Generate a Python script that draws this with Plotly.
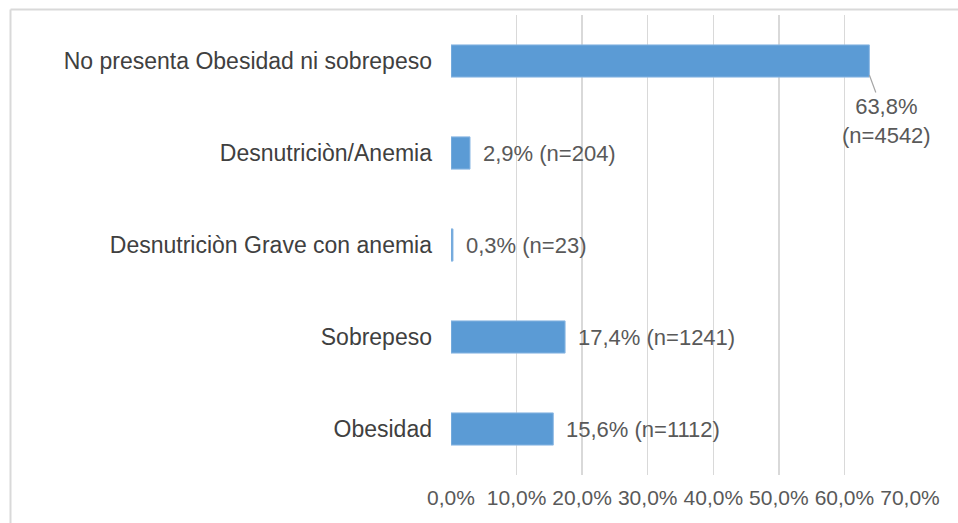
import plotly.graph_objects as go

categories = ["No presenta Obesidad ni sobrepeso", "Desnutriciòn/Anemia",
              "Desnutriciòn Grave con anemia", "Sobrepeso", "Obesidad"]
pct_values = [63.8, 2.9, 0.3, 17.4, 15.6]
n_values = [4542, 204, 23, 1241, 1112]
tick_vals = [0, 10, 20, 30, 40, 50, 60, 70]
tick_text = ["0,0%", "10,0%", "20,0%", "30,0%", "40,0%", "50,0%", "60,0%", "70,0%"]

FONT = "Liberation Sans, Arial, sans-serif"
W, H = 958, 523
L, R, T, B = 451, 48, 15, 48

fig = go.Figure(go.Bar(
    x=pct_values, y=categories, orientation="h",
    marker=dict(color="#5B9BD5", line=dict(color="#8DB9E4", width=1)),
    hoverinfo="skip",
))

def fmt(v):
    return f"{v:.1f}".replace(".", ",") + "%"

annotations = []
for i, (c, v, n) in enumerate(zip(categories, pct_values, n_values)):
    if i == 0:
        annotations.append(dict(
            x=v, y=c, xref="x", yref="y", text=f"{fmt(v)}<br>(n={n})",
            showarrow=True, arrowhead=0, arrowwidth=1.2, arrowcolor="#A6A6A6",
            ax=17, ay=46, yshift=-14, align="center",
            font=dict(family=FONT, size=22, color="#595959"),
        ))
    else:
        annotations.append(dict(
            x=v, y=c, xref="x", yref="y", text=f"{fmt(v)} (n={n})",
            showarrow=False, xanchor="left", xshift=11,
            font=dict(family=FONT, size=22, color="#595959"),
        ))

pw = W - L - R
ph = H - T - B
fx = (10.5 - L) / pw
fy = 1 + (T - 9.5) / ph

fig.update_layout(
    width=W, height=H,
    margin=dict(l=L, r=R, t=T, b=B, pad=0),
    paper_bgcolor="white", plot_bgcolor="white",
    showlegend=False,
    bargap=0.65,
    annotations=annotations,
    shapes=[
        dict(type="line", xref="paper", yref="paper", x0=fx, x1=fx, y0=fy, y1=-0.3,
             line=dict(color="#D9D9D9", width=2)),
        dict(type="line", xref="paper", yref="paper", x0=fx, x1=1.3, y0=fy, y1=fy,
             line=dict(color="#D9D9D9", width=2)),
    ],
    xaxis=dict(range=[0, 70], tickvals=tick_vals, ticktext=tick_text,
               showgrid=True, gridcolor="#D9D9D9", gridwidth=1.3,
               zeroline=False, showline=False, ticks="",
               ticklabelstandoff=8,
               tickfont=dict(family=FONT, size=21, color="#595959")),
    yaxis=dict(range=[len(categories) - 0.5, -0.5], autorange=False,
               showgrid=False, zeroline=False, showline=False,
               ticks="", ticklabelstandoff=18,
               tickfont=dict(family=FONT, size=23, color="#404040")),
)

fig.write_html("out.html", config={"displayModeBar": False, "staticPlot": True},
               post_script="document.body.style.margin='0px';document.body.style.overflow='hidden';")
